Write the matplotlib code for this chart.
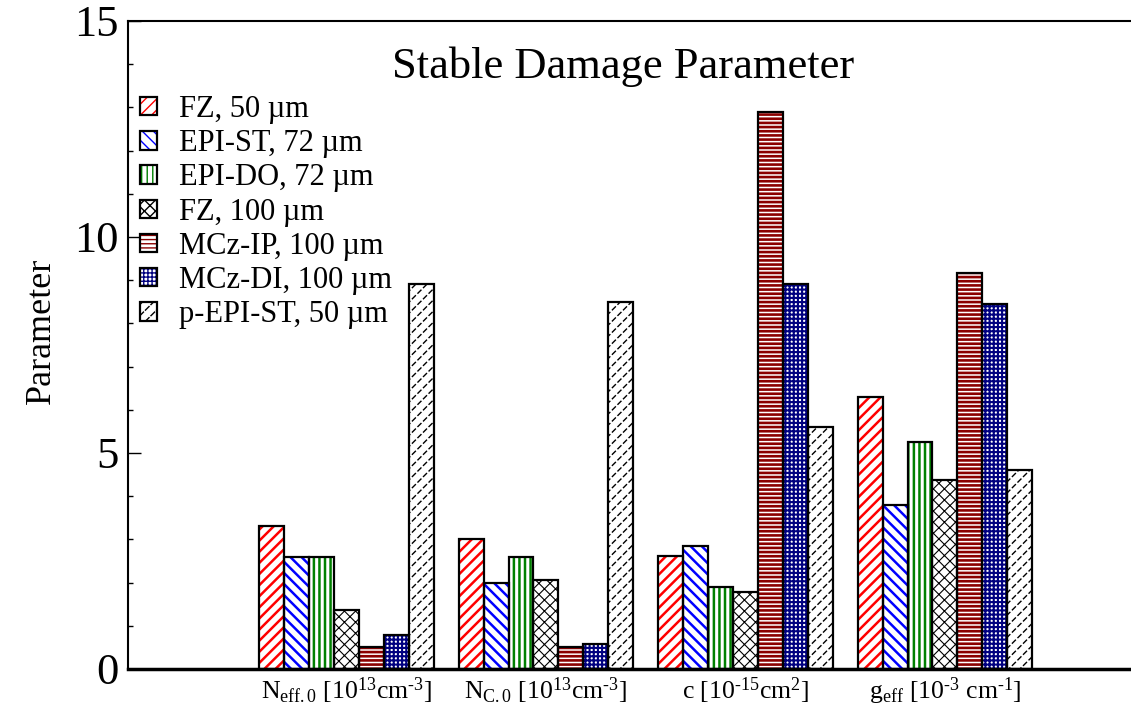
import matplotlib
matplotlib.use("Agg")
import matplotlib.pyplot as plt
from matplotlib.legend_handler import HandlerTuple
import numpy as np

# --- data -------------------------------------------------------------
groups = [
    r"N$_{\mathrm{eff.0}}$ [10$^{13}$cm$^{\text{-}3}$]",
    r"N$_{\mathrm{C.0}}$ [10$^{13}$cm$^{\text{-}3}$]",
    r"c [10$^{\text{-}15}$cm$^{2}$]",
    r"g$_{\mathrm{eff}}$ [10$^{\text{-}3}$ cm$^{\text{-}1}$]",
]
series = [
    "FZ, 50 µm", "EPI-ST, 72 µm", "EPI-DO, 72 µm", "FZ, 100 µm",
    "MCz-IP, 100 µm", "MCz-DI, 100 µm", "p-EPI-ST, 50 µm",
]
fz50 = [3.3, 3.0, 2.62, 6.3]
epi_st = [2.6, 2.0, 2.85, 3.8]
epi_do = [2.6, 2.6, 1.9, 5.26]
fz100 = [1.36, 2.05, 1.78, 4.38]
mcz_ip = [0.5, 0.52, 12.9, 9.16]
mcz_di = [0.78, 0.58, 8.92, 8.45]
p_epi = [8.92, 8.5, 5.6, 4.6]
values = [fz50, epi_st, epi_do, fz100, mcz_ip, mcz_di, p_epi]

# hatch colour, hatch pattern, hatch line width, optional white breaker hatch
STYLES = [
    ("red", "///", 1.8, None),
    ("blue", "\\\\\\", 1.8, None),
    ("green", "|||", 1.8, None),
    ("black", "xxx", 0.8, None),
    ("#8b0000", "----", 1.9, None),
    ("#000080", "++++", 1.5, None),
    ("black", "///", 1.0, "\\\\\\"),
]

plt.rcParams.update({
    "font.family": "serif",
    "font.serif": ["Liberation Serif", "DejaVu Serif"],
    "mathtext.fontset": "custom",
    "mathtext.rm": "Liberation Serif",
    "mathtext.it": "Liberation Serif:italic",
    "mathtext.bf": "Liberation Serif:bold",
    "ytick.direction": "in",
    "ytick.minor.visible": True,
})


def _hlw(bars, lw):
    for p in bars:
        if hasattr(p, "set_hatch_linewidth"):
            p.set_hatch_linewidth(lw)


def hatched(ax, x, h, w, col, hatch, hlw, breaker):
    """Bar with a coloured hatch and a black outline; returns legend parts."""
    parts = []
    with plt.rc_context({"hatch.linewidth": hlw}):
        b = ax.bar(x, h, w, color="white", edgecolor=col, hatch=hatch,
                   linewidth=0, zorder=2)
    _hlw(b, hlw)
    parts.append(b[0])
    if breaker:
        with plt.rc_context({"hatch.linewidth": 1.6}):
            b2 = ax.bar(x, h, w, color="none", edgecolor="white",
                        hatch=breaker, linewidth=0, zorder=2.5)
        _hlw(b2, 1.6)
        parts.append(b2[0])
    o = ax.bar(x, h, w, fill=False, edgecolor="black", linewidth=1.6, zorder=3)
    parts.append(o[0])
    return tuple(parts)


fig = plt.figure(figsize=(11.31, 7.09), dpi=100)
W, H = 1131, 709
ax = fig.add_axes([128 / W, 40 / H, (1140 - 128) / W, (669 - 21) / H])

x = np.arange(len(groups))
width = 0.125
handles = []
for i, (vals, st) in enumerate(zip(values, STYLES)):
    handles.append(hatched(ax, x + (i - 3) * width, vals, width, *st))

ax.set_xlim(-1.095, -1.095 + 1012 / 199.5)
ax.set_ylim(0, 15)
ax.set_xticks(x)
ax.set_xticklabels(groups)
ax.set_yticks([0, 5, 10, 15])
ax.set_yticks(np.arange(0, 16, 1), minor=True)

ax.tick_params(axis="x", which="both", length=0, labelsize=18.5, pad=5)
ax.tick_params(axis="y", which="major", direction="in", length=9, width=1,
               labelsize=32, pad=7)
ax.tick_params(axis="y", which="minor", direction="in", length=3.5, width=1)

ax.spines["right"].set_visible(False)
ax.spines["left"].set_linewidth(1.5)
ax.spines["top"].set_linewidth(1.5)
ax.spines["bottom"].set_linewidth(2.5)

ax.set_ylabel("Parameter", fontsize=26)
ax.yaxis.set_label_coords(-0.069, 0.522)
fig.text(623 / W, 1 - 67 / H, "Stable Damage Parameter", fontsize=32,
         ha="center", va="center")

ax.legend(handles, series, loc="upper left",
          bbox_to_anchor=(140 / W, 1 - 95 / H), bbox_transform=fig.transFigure,
          frameon=False, fontsize=22, handlelength=0.55, handleheight=0.55,
          handletextpad=0.72, labelspacing=0.17, borderpad=0, borderaxespad=0,
          handler_map={tuple: HandlerTuple(ndivide=1)})

fig.savefig("out.png", dpi=100)
